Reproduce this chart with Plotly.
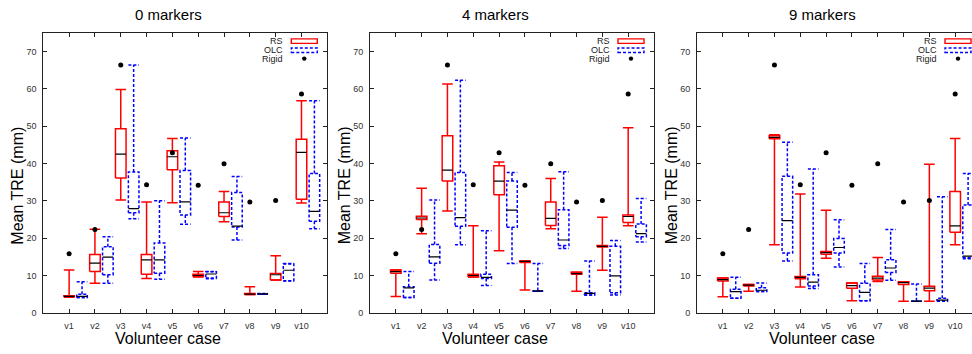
import plotly.graph_objects as go

CASES = ["v1", "v2", "v3", "v4", "v5", "v6", "v7", "v8", "v9", "v10"]
TITLES = ["0 markers", "4 markers", "9 markers"]

RIGID = [15.8, 22.3, 66.4, 34.3, 42.9, 34.2, 39.9, 29.7, 30.1, 58.6]

# statistics: lo (lower whisker), q1, med, q3, hi (upper whisker)
RS_0 = {
    "lo":  [4.2, 7.9, 30.2, 9.2, 29.5, 9.6, 24.4, 4.9, 8.8, 29.4],
    "q1":  [4.3, 11.05, 36.1, 10.3, 38.3, 9.7, 25.8, 4.9, 8.8, 30.4],
    "med": [4.4, 13.3, 42.5, 14.2, 41.8, 10.0, 26.8, 5.0, 10.2, 43.0],
    "q3":  [4.6, 15.6, 49.3, 15.6, 43.4, 10.3, 29.7, 5.2, 10.5, 46.5],
    "hi":  [11.5, 22.4, 59.8, 29.7, 46.7, 11.1, 32.5, 7.0, 15.3, 56.8],
}
OLC_0 = {
    "lo":  [4.1, 7.9, 25.2, 9.0, 23.7, 9.1, 19.5, 5.0, 8.5, 22.5],
    "q1":  [4.1, 10.2, 26.8, 10.6, 26.2, 9.3, 23.0, 5.0, 8.6, 24.5],
    "med": [4.4, 14.9, 27.9, 14.2, 29.7, 10.4, 23.2, 5.1, 11.4, 27.2],
    "q3":  [5.0, 17.7, 37.7, 18.7, 38.1, 11.0, 32.2, 5.2, 13.1, 37.3],
    "hi":  [8.3, 20.4, 66.4, 30.0, 46.8, 11.1, 36.5, 5.2, 13.2, 56.8],
}
RS_4 = {
    "lo":  [4.4, 21.2, 27.3, 9.6, 16.6, 6.1, 22.5, 5.8, 11.4, 23.3],
    "q1":  [10.6, 25.0, 35.3, 9.6, 31.6, 13.5, 23.4, 10.3, 17.6, 24.2],
    "med": [11.05, 25.4, 38.2, 10.0, 35.3, 13.8, 25.3, 10.5, 17.8, 25.8],
    "q3":  [11.5, 25.9, 47.4, 10.3, 39.4, 13.9, 29.7, 10.9, 18.0, 26.2],
    "hi":  [11.5, 33.4, 61.3, 23.3, 40.4, 13.9, 36.0, 10.9, 25.6, 49.6],
}
OLC_4 = {
    "lo":  [4.1, 8.8, 18.2, 7.3, 13.2, 5.8, 17.2, 4.8, 4.8, 19.0],
    "q1":  [4.1, 13.3, 23.2, 9.2, 22.9, 5.8, 18.0, 4.8, 5.4, 20.4],
    "med": [6.7, 15.0, 25.5, 9.5, 27.5, 5.9, 19.5, 5.2, 9.9, 21.2],
    "q3":  [7.0, 18.3, 37.6, 10.3, 35.3, 6.0, 27.6, 5.4, 17.8, 23.8],
    "hi":  [11.1, 30.2, 62.3, 22.0, 37.6, 13.2, 37.8, 13.9, 19.4, 30.6],
}
RS_9 = {
    "lo":  [4.3, 5.8, 18.2, 6.9, 14.6, 3.2, 8.4, 3.1, 3.1, 18.2],
    "q1":  [8.5, 7.2, 46.6, 9.1, 15.7, 6.6, 8.8, 7.6, 5.9, 21.6],
    "med": [8.9, 7.4, 47.0, 9.5, 16.1, 7.3, 9.3, 8.1, 6.6, 23.3],
    "q3":  [9.3, 7.6, 47.4, 9.7, 16.4, 8.0, 9.8, 8.3, 7.1, 32.5],
    "hi":  [9.3, 7.6, 47.7, 31.8, 27.5, 8.0, 14.8, 8.3, 39.8, 46.7],
}
OLC_9 = {
    "lo":  [3.9, 5.7, 13.9, 6.5, 12.3, 3.2, 8.7, 3.1, 3.1, 14.5],
    "q1":  [3.9, 5.7, 16.0, 7.2, 16.0, 3.2, 10.8, 3.1, 3.1, 14.8],
    "med": [5.7, 6.05, 24.7, 8.2, 17.5, 5.5, 12.0, 3.15, 3.4, 15.2],
    "q3":  [6.3, 6.7, 36.6, 10.2, 19.9, 7.9, 14.2, 3.2, 3.9, 28.9],
    "hi":  [9.5, 8.0, 45.7, 38.5, 24.9, 13.2, 22.3, 7.7, 31.1, 37.3],
}

PANELS = [(RS_0, OLC_0), (RS_4, OLC_4), (RS_9, OLC_9)]

RED = "#ff0000"
BLUE = "#0000ff"
FONT = "Liberation Sans, Arial, sans-serif"

W, H = 972, 354
PLOT_W = 284.0
LEFTS = [43.3, 370.0, 697.0]
TOP, BOTTOM = 33.3, 317.3
XMAX = 11.0
YMAX = 75.0


def box_paths(stats, offset, hw):
    bx, by, mx, my = [], [], [], []
    for i in range(len(CASES)):
        c = i + 1 + offset
        lo, q1, md, q3, hi = (stats[k][i] for k in ("lo", "q1", "med", "q3", "hi"))
        bx += [c - hw, c + hw, c + hw, c - hw, c - hw, None]
        by += [q1, q1, q3, q3, q1, None]
        bx += [c, c, None, c, c, None]
        by += [q3, hi, None, q1, lo, None]
        bx += [c - hw, c + hw, None, c - hw, c + hw, None]
        by += [hi, hi, None, lo, lo, None]
        mx += [c - hw, c + hw, None]
        my += [md, md, None]
    return bx, by, mx, my


fig = go.Figure()
HW = 0.205
for p, (rs, olc) in enumerate(PANELS):
    xa = "x" if p == 0 else f"x{p+1}"
    ya = "y" if p == 0 else f"y{p+1}"
    for stats, off, col, dash in ((rs, 0.0, RED, "solid"), (olc, 0.5, BLUE, "3px,2px")):
        bx, by, mx, my = box_paths(stats, off, HW)
        fig.add_trace(go.Scatter(x=bx, y=by, mode="lines", xaxis=xa, yaxis=ya,
                                 line=dict(color=col, width=1.5, dash=dash),
                                 showlegend=False, hoverinfo="skip"))
        fig.add_trace(go.Scatter(x=mx, y=my, mode="lines", xaxis=xa, yaxis=ya,
                                 line=dict(color="#000000", width=1.2),
                                 showlegend=False, hoverinfo="skip"))
    fig.add_trace(go.Scatter(x=list(range(1, len(CASES) + 1)), y=RIGID, mode="markers",
                             xaxis=xa, yaxis=ya,
                             marker=dict(color="black", size=5),
                             showlegend=False, hoverinfo="skip"))

annotations = []
shapes = []
ydom = [1 - BOTTOM / H, 1 - TOP / H]
px_per_x = PLOT_W / XMAX
px_per_y = (BOTTOM - TOP) / YMAX

for p in range(3):
    left = LEFTS[p]
    right = min(left + PLOT_W, W)
    xmax = (right - left) / px_per_x
    sfx = "" if p == 0 else str(p + 1)
    axis_common = dict(showline=True, linecolor="#222222", linewidth=1,
                       ticks="inside", ticklen=4, tickcolor="#222222",
                       showgrid=False, zeroline=False,
                       tickfont=dict(family=FONT, size=9, color="#333333"))
    fig.layout["xaxis" + sfx] = dict(
        domain=[left / W, right / W], range=[0, xmax],
        tickvals=list(range(1, len(CASES) + 1)), ticktext=CASES,
        mirror="allticks", anchor="y" + sfx, ticklabelstandoff=4, **axis_common)
    fig.layout["yaxis" + sfx] = dict(
        domain=ydom, range=[0, YMAX], tickvals=[0, 10, 20, 30, 40, 50, 60, 70],
        mirror=("allticks" if p < 2 else False), anchor="x" + sfx,
        ticklabelstandoff=4, **axis_common)

    cx = left + PLOT_W / 2 - 17
    annotations.append(dict(text=TITLES[p], x=cx / W, y=1 - 15 / H, xref="paper", yref="paper",
                            xanchor="center", yanchor="middle", showarrow=False,
                            font=dict(family=FONT, size=15, color="black")))
    annotations.append(dict(text="Volunteer case", x=cx / W, y=1 - 343 / H, xref="paper", yref="paper",
                            xanchor="center", yanchor="middle", showarrow=False,
                            font=dict(family=FONT, size=16, color="black")))
    annotations.append(dict(text="Mean TRE (mm)", x=(left - 26) / W, y=1 - 188 / H,
                            xref="paper", yref="paper", textangle=-90,
                            xanchor="center", yanchor="middle", showarrow=False,
                            font=dict(family=FONT, size=16, color="black")))

    # legend (drawn in axis coordinates)
    xr, yr = "x" + sfx, "y" + sfx
    def ax(px):
        return px / px_per_x
    def ay(py):
        return (BOTTOM - py) / px_per_y
    for label, py in (("RS", 41.6), ("OLC", 50.9), ("Rigid", 60.0)):
        annotations.append(dict(text=label, x=ax(242), y=ay(py), xref=xr, yref=yr,
                                xanchor="right", yanchor="middle", showarrow=False,
                                font=dict(family=FONT, size=9, color="#222222")))
    shapes.append(dict(type="rect", xref=xr, yref=yr, x0=ax(248), x1=ax(274),
                       y0=ay(44.0), y1=ay(39.4), line=dict(color=RED, width=1.4)))
    shapes.append(dict(type="rect", xref=xr, yref=yr, x0=ax(248), x1=ax(274),
                       y0=ay(53.3), y1=ay(48.7), line=dict(color=BLUE, width=1.4, dash="3px,2px")))
    shapes.append(dict(type="circle", xref=xr, yref=yr, x0=ax(258.8), x1=ax(263.2),
                       y0=ay(61.6), y1=ay(57.2), fillcolor="black", line=dict(width=0)))

fig.update_layout(width=W, height=H, margin=dict(l=0, r=0, t=0, b=0, pad=0),
                  paper_bgcolor="white", plot_bgcolor="white",
                  annotations=annotations, shapes=shapes, showlegend=False)

fig.write_html("out.html")
